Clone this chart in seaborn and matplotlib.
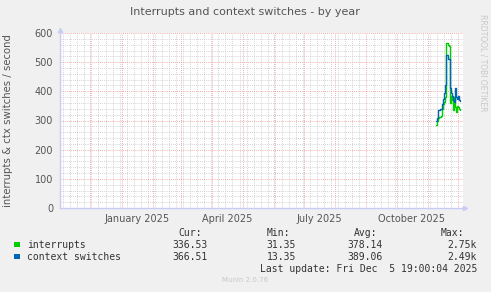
import numpy as np
import pandas as pd
import matplotlib
matplotlib.use("Agg")
import matplotlib.pyplot as plt
import matplotlib.dates as mdates
import matplotlib.transforms as mtransforms
import seaborn as sns

# ---------------- data ----------------
start_day = "2025-11-09"
interrupts = [285, 300, 310, 312, 312, 315, 340, 355, 365, 380, 565, 565, 560, 555,
              360, 385, 370, 335, 380, 345, 330, 350, 345, 340, 336]
context_switches = [300, 310, 335, 336, 338, 340, 355, 375, 395, 420, 525, 525, 510, 510,
                    410, 395, 385, 370, 365, 410, 380, 375, 385, 370, 366]
series_names = ["interrupts", "context switches"]
series_colors = ["#00CC00", "#0066B3"]
cur_vals = ["336.53", "366.51"]
min_vals = ["31.35", "13.35"]
avg_vals = ["378.14", "389.06"]
max_vals = ["2.75k", "2.49k"]
y_ticks = [0, 100, 200, 300, 400, 500, 600]
x_label_dates = ["2025-01-16", "2025-04-16", "2025-07-16", "2025-10-16"]
x_label_texts = ["January 2025", "April 2025", "July 2025", "October 2025"]
x_start = "2024-10-31 19:00"
x_end = "2025-12-05 19:00"

dates = pd.date_range(start_day, periods=len(interrupts), freq="D")
df = pd.DataFrame({
    "date": list(dates) * 2,
    "value": interrupts + context_switches,
    "series": [series_names[0]] * len(interrupts) + [series_names[1]] * len(context_switches),
})

# ---------------- figure ----------------
sns.set_theme(style="white")
plt.rcParams["font.family"] = ["DejaVu Sans"]
W, H = 491, 292
fig = plt.figure(figsize=(W / 100, H / 100), dpi=100, facecolor="#F0F0F0")
ax = fig.add_axes([60 / W, 1 - 208 / H, 403 / W, 175 / H])
ax.set_facecolor("white")

sns.lineplot(data=df, x="date", y="value", hue="series", palette=series_colors,
             hue_order=series_names, drawstyle="steps-post", linewidth=1.0,
             legend=False, ax=ax, zorder=3)

ax.set_xlim(pd.Timestamp(x_start), pd.Timestamp(x_end))
ax.set_ylim(0, 600)

# grids
ax.xaxis.set_major_locator(mdates.MonthLocator())
ax.xaxis.set_minor_locator(mdates.WeekdayLocator(byweekday=mdates.MO))
ax.set_yticks(y_ticks)
ax.set_yticks(np.arange(0, 601, 20), minor=True)
ax.grid(which="minor", color="#C4C4C4", linestyle=(0, (1, 1.5)), linewidth=0.6)
ax.grid(which="major", color="#F09090", linestyle=(0, (1, 1.5)), linewidth=0.6)
ax.set_axisbelow(True)
ax.set_xticklabels([])
ax.tick_params(axis="x", which="both", length=0)
ax.tick_params(axis="y", which="major", length=0, labelsize=7, labelcolor="#555555", pad=5)
ax.tick_params(axis="y", which="minor", length=0)
ax.set_xlabel("")
ax.set_ylabel("interrupts & ctx switches / second", fontsize=7.3, color="#555555", labelpad=8)
ax.yaxis.set_label_coords(-47 / 403, 0.5)

trans = mtransforms.blended_transform_factory(ax.transData, ax.transAxes)
for d, t in zip(x_label_dates, x_label_texts):
    ax.text(pd.Timestamp(d), -0.035, t, transform=trans, ha="center", va="top",
            fontsize=7, color="#555555")

# axes spines + arrows
for s in ["top", "right"]:
    ax.spines[s].set_visible(False)
for s in ["left", "bottom"]:
    ax.spines[s].set_color("#C8CCF4")
    ax.spines[s].set_linewidth(1.0)
ax.plot([1.005], [0], marker=">", color="#C8CCF4", markersize=3, transform=ax.transAxes, clip_on=False)
ax.plot([0], [1.015], marker="^", color="#C8CCF4", markersize=3, transform=ax.transAxes, clip_on=False)

# title and side text
fig.text(245 / W, 1 - 12 / H, "Interrupts and context switches - by year", ha="center", va="center",
         fontsize=8, color="#555555")
fig.text(483 / W, 1 - 14 / H, "RRDTOOL / TOBI OETIKER", rotation=-90, ha="center", va="top",
         fontsize=5.5, color="#C8C8C8")

# legend block
mono = "DejaVu Sans Mono"
fs = 7
col_right = [202, 290, 377, 464]
headers = ["Cur:", "Min:", "Avg:", "Max:"]
for x, h in zip(col_right, headers):
    fig.text(x / W, 1 - 233 / H, h, ha="right", va="center", family=mono, fontsize=fs, color="#333333")
val_right = [208, 296, 383, 477]
rows_y = [244.5, 256.5]
for i, name in enumerate(series_names):
    y = 1 - rows_y[i] / H
    fig.patches.append(plt.Rectangle((14 / W, y - 2.7 / H), 5.5 / W, 5.5 / H, transform=fig.transFigure,
                                     facecolor=series_colors[i], edgecolor="none"))
    fig.text(27 / W, y, name, ha="left", va="center", family=mono, fontsize=fs, color="#333333")
    for x, v in zip(val_right, [cur_vals[i], min_vals[i], avg_vals[i], max_vals[i]]):
        fig.text(x / W, y, v, ha="right", va="center", family=mono, fontsize=fs, color="#333333")
fig.text(477 / W, 1 - 269 / H, "Last update: Fri Dec  5 19:00:04 2025", ha="right", va="center",
         family=mono, fontsize=fs, color="#333333")
fig.text(245 / W, 1 - 280 / H, "Munin 2.0.76", ha="center", va="center", fontsize=5, color="#C8C8C8")

fig.savefig("out.png", dpi=100, facecolor=fig.get_facecolor())
